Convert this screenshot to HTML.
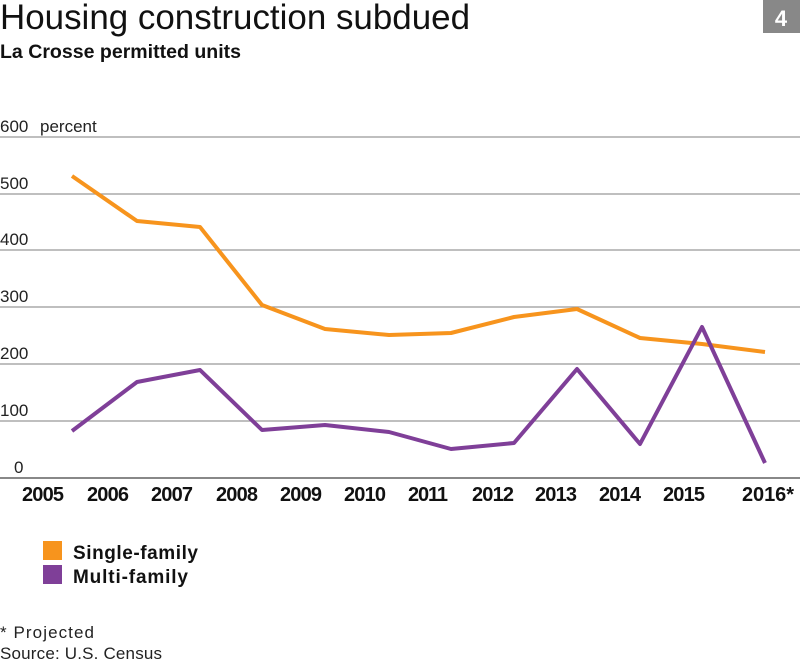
<!DOCTYPE html>
<html><head><style>
body{margin:0;width:800px;height:662px;background:#fff;overflow:hidden;font-family:"Liberation Sans",sans-serif;}
</style></head><body>
<svg width="800" height="662" xmlns="http://www.w3.org/2000/svg" font-family="Liberation Sans, sans-serif">
<text x="0" y="29" font-size="35" font-weight="300" fill="#111" textLength="470" lengthAdjust="spacingAndGlyphs">Housing construction subdued</text>
<rect x="763" y="0" width="37" height="33" fill="#888"/>
<text x="781" y="26" font-size="22" font-weight="bold" fill="#fff" text-anchor="middle">4</text>
<text x="0" y="58" font-size="19" font-weight="bold" fill="#111" textLength="241" lengthAdjust="spacingAndGlyphs">La Crosse permitted units</text>
<g stroke="#999" stroke-width="1.2">
<line x1="0" x2="800" y1="137" y2="137"/>
<line x1="0" x2="800" y1="194" y2="194"/>
<line x1="0" x2="800" y1="250" y2="250"/>
<line x1="0" x2="800" y1="307" y2="307"/>
<line x1="0" x2="800" y1="364" y2="364"/>
<line x1="0" x2="800" y1="421" y2="421"/>
</g>
<line x1="0" x2="800" y1="478" y2="478" stroke="#888" stroke-width="2"/>
<g font-size="17" fill="#222" font-weight="300">
<text x="0" y="132">600</text><text x="40" y="132">percent</text>
<text x="0" y="189">500</text>
<text x="0" y="245">400</text>
<text x="0" y="302">300</text>
<text x="0" y="359">200</text>
<text x="0" y="416">100</text>
<text x="14" y="473">0</text>
</g>
<g font-size="20" font-weight="bold" fill="#111" lengthAdjust="spacingAndGlyphs">
<text x="22" y="501" textLength="42">2005</text><text x="87" y="501" textLength="42">2006</text><text x="151" y="501" textLength="42">2007</text>
<text x="216" y="501" textLength="42">2008</text><text x="280" y="501" textLength="42">2009</text><text x="344" y="501" textLength="42">2010</text>
<text x="408" y="501" textLength="40">2011</text><text x="472" y="501" textLength="42">2012</text><text x="535" y="501" textLength="42">2013</text>
<text x="599" y="501" textLength="42">2014</text><text x="663" y="501" textLength="42">2015</text><text x="742" y="501" textLength="52">2016*</text>
</g>
<polyline fill="none" stroke="#f7941d" stroke-width="4" stroke-linejoin="round" points="72,176 137,221 200,227 262,305 325,329 389,335 451,333 514,317 577,309 640,338 702,344 765,352"/>
<polyline fill="none" stroke="#7f3f98" stroke-width="4" stroke-linejoin="round" points="72,431 137,382 200,370 262,430 325,425 389,432 451,449 514,443 577,369 640,444 702,327 765,463"/>
<rect x="43" y="541" width="19" height="19" fill="#f7941d"/>
<rect x="43" y="565" width="19" height="19" fill="#7f3f98"/>
<g font-size="19" font-weight="bold" fill="#111" lengthAdjust="spacingAndGlyphs">
<text x="73" y="559" textLength="125">Single-family</text>
<text x="73" y="583" textLength="115">Multi-family</text>
</g>
<g font-size="17" fill="#222" font-weight="300">
<text x="0" y="638" textLength="94">* Projected</text>
<text x="0" y="659" textLength="162">Source: U.S. Census</text>
</g>
</svg>
</body></html>
